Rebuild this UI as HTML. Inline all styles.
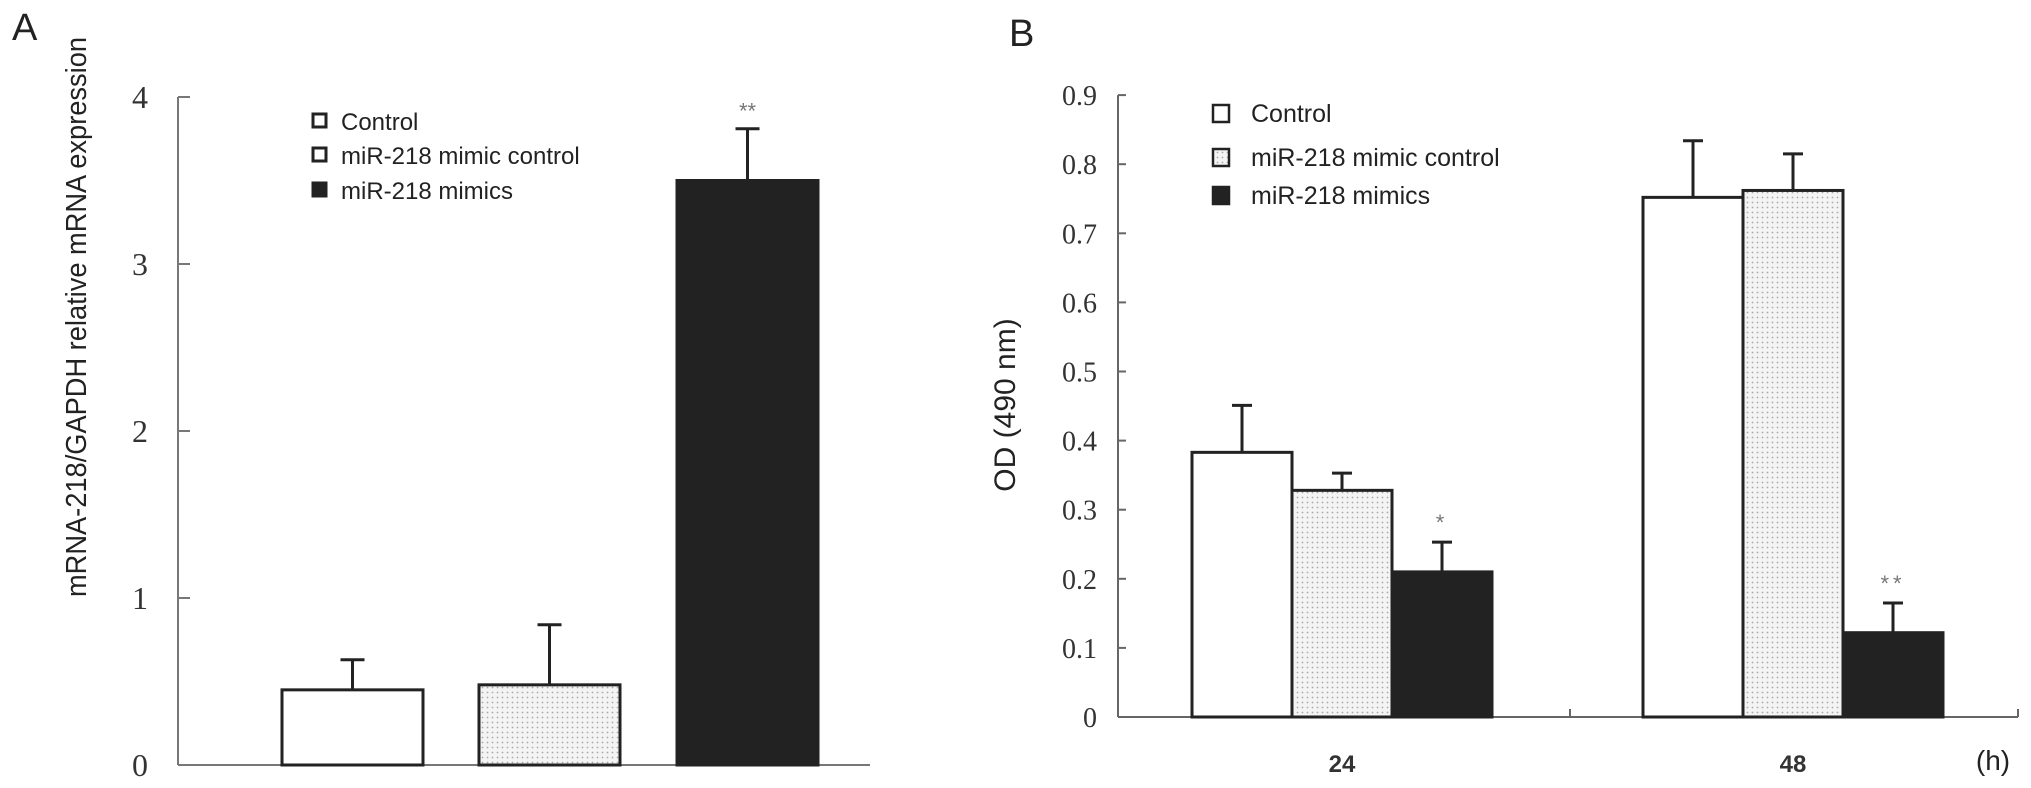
<!DOCTYPE html>
<html><head><meta charset="utf-8"><style>
html,body{margin:0;padding:0;background:#fff;}
svg{display:block;}
</style></head><body>
<svg id="chart" width="2031" height="788" viewBox="0 0 2031 788" xmlns="http://www.w3.org/2000/svg">
<defs>
<pattern id="dots" width="5" height="5" patternUnits="userSpaceOnUse">
<rect width="5" height="5" fill="#f4f4f4"/>
<circle cx="2.5" cy="2.5" r="0.9" fill="#aaa"/>
</pattern>
</defs>
<text x="12" y="40" font-family="Liberation Sans, sans-serif" font-size="38" fill="#222">A</text>
<text x="1009" y="46" font-family="Liberation Sans, sans-serif" font-size="38" fill="#222">B</text>
<g id="gA"></g>
<g id="gB"></g>
</svg>
<script>
// Panel A data
const catsA = ["Control", "miR-218 mimic control", "miR-218 mimics"];
const valsA = [0.45, 0.48, 3.50];
const errA = [0.18, 0.36, 0.31];
const ticksA = ["0", "1", "2", "3", "4"];
const starsA = ["", "", "**"];
// Panel B data
const groupsB = ["24", "48"];
const seriesB = ["Control", "miR-218 mimic control", "miR-218 mimics"];
const valsB0 = [0.383, 0.752];
const valsB1 = [0.328, 0.762];
const valsB2 = [0.210, 0.122];
const errB0 = [0.068, 0.082];
const errB1 = [0.025, 0.053];
const errB2 = [0.043, 0.043];
const ticksB = ["0", "0.1", "0.2", "0.3", "0.4", "0.5", "0.6", "0.7", "0.8", "0.9"];
const starsB = [["", "", "*"], ["", "", "**"]];

const NS = "http://www.w3.org/2000/svg";
const fills = ["#fff", "url(#dots)", "#222"];
function mk(parent, tag, attrs, text) {
  const e = document.createElementNS(NS, tag);
  for (const k in attrs) e.setAttribute(k, attrs[k]);
  if (text !== undefined) e.textContent = text;
  parent.appendChild(e);
  return e;
}

// ---------- Panel A ----------
const gA = document.getElementById("gA");
const axA = 178, y0A = 765, unitA = 167;
const yA = v => y0A - v * unitA;
let el;
el = mk(gA, "line", {x1: axA, y1: yA(4), x2: axA, y2: y0A, stroke: "#777", "stroke-width": 2});


el = mk(gA, "line", {x1: axA, y1: y0A, x2: 870, y2: y0A, stroke: "#777", "stroke-width": 2});


ticksA.forEach((t, i) => {
  const v = parseFloat(t);
  const tk = mk(gA, "line", {x1: axA, y1: yA(v), x2: axA + 12, y2: yA(v), stroke: "#777", "stroke-width": 2});
  
  
  const lb = mk(gA, "text", {x: 148, y: yA(v) + 11, "text-anchor": "end", "font-family": "Liberation Serif, serif", "font-size": 32, fill: "#333"}, t);
  
  
});
el = mk(gA, "text", {x: 0, y: 0, transform: "translate(86,317) rotate(-90)", "text-anchor": "middle", "font-family": "Liberation Sans, sans-serif", "font-size": 29, fill: "#222", textLength: 560, lengthAdjust: "spacingAndGlyphs"}, "mRNA-218/GAPDH relative mRNA expression");


const barXA = [282, 479, 677], bwA = 141;
catsA.forEach((c, i) => {
  const x = barXA[i], top = yA(valsA[i]), et = yA(valsA[i] + errA[i]), cx = x + bwA / 2;
  const b = mk(gA, "rect", {x: x, y: top, width: bwA, height: y0A - top, fill: fills[i], stroke: "#222", "stroke-width": 3});
  
  
  const e1 = mk(gA, "path", {d: `M${cx},${top} V${et} M${cx - 12},${et} H${cx + 12}`, stroke: "#222", "stroke-width": 3, fill: "none"});
  
  
  if (starsA[i]) {
    const s = mk(gA, "text", {x: cx, y: et - 10, "text-anchor": "middle", "font-family": "Liberation Sans, sans-serif", "font-size": 22, fill: "#777"}, starsA[i]);
    
    
  }
});
const legYA = [121, 155, 190];
catsA.forEach((c, i) => {
  const sq = mk(gA, "rect", {x: 313, y: legYA[i] - 7, width: 13, height: 13, fill: i === 2 ? "#222" : "#fff", stroke: "#222", "stroke-width": 3});
  
  
  const t = mk(gA, "text", {x: 341, y: legYA[i] + 9, "font-family": "Liberation Sans, sans-serif", "font-size": 24, fill: "#222"}, c);
  
  
});

// ---------- Panel B ----------
const gB = document.getElementById("gB");
const axB = 1118, y0B = 717, unitB = 691;
const yB = v => y0B - v * unitB;
el = mk(gB, "line", {x1: axB, y1: yB(0.9), x2: axB, y2: y0B, stroke: "#666", "stroke-width": 2});


el = mk(gB, "line", {x1: axB, y1: y0B, x2: 2018, y2: y0B, stroke: "#666", "stroke-width": 2});


[1570, 2018].forEach(x => {
  const t = mk(gB, "line", {x1: x, y1: y0B, x2: x, y2: y0B - 8, stroke: "#666", "stroke-width": 2});
  
  
});
ticksB.forEach(t => {
  const v = parseFloat(t);
  const tk = mk(gB, "line", {x1: axB, y1: yB(v), x2: axB + 8, y2: yB(v), stroke: "#666", "stroke-width": 2});
  
  
  const lb = mk(gB, "text", {x: 1097, y: yB(v) + 10, "text-anchor": "end", "font-family": "Liberation Serif, serif", "font-size": 28, fill: "#333"}, t);
  
  
});
el = mk(gB, "text", {x: 0, y: 0, transform: "translate(1015,405) rotate(-90)", "text-anchor": "middle", "font-family": "Liberation Sans, sans-serif", "font-size": 30, fill: "#222"}, "OD (490 nm)");


const groupX = [1192, 1643], bwB = 100;
const valsB = [valsB0, valsB1, valsB2], errB = [errB0, errB1, errB2];
groupsB.forEach((g, gi) => {
  seriesB.forEach((s, si) => {
    const x = groupX[gi] + si * bwB, v = valsB[si][gi], top = yB(v), et = yB(v + errB[si][gi]), cx = x + bwB / 2;
    const b = mk(gB, "rect", {x: x, y: top, width: bwB, height: y0B - top, fill: fills[si], stroke: "#222", "stroke-width": 3});
    
    
    const e1 = mk(gB, "path", {d: `M${cx},${top} V${et} M${cx - 10},${et} H${cx + 10}`, stroke: "#222", "stroke-width": 3, fill: "none"});
    
    
    if (starsB[gi][si]) {
      const st = mk(gB, "text", {x: cx, y: et - 12, "text-anchor": "middle", "font-family": "Liberation Sans, sans-serif", "font-size": 22, fill: "#777", "letter-spacing": 4}, starsB[gi][si]);
      
      
    }
  });
  const lb = mk(gB, "text", {x: groupX[gi] + 1.5 * bwB, y: 772, "text-anchor": "middle", "font-family": "Liberation Sans, sans-serif", "font-size": 24, "font-weight": "bold", fill: "#333"}, g);
  
  
});
el = mk(gB, "text", {x: 1993, y: 770, "text-anchor": "middle", "font-family": "Liberation Sans, sans-serif", "font-size": 28, fill: "#222"}, "(h)");


const legYB = [113, 157, 195];
seriesB.forEach((c, i) => {
  const sq = mk(gB, "rect", {x: 1213, y: legYB[i] - 8, width: 16, height: 17, fill: i === 2 ? "#222" : (i === 1 ? "url(#dots)" : "#fff"), stroke: "#222", "stroke-width": 2.5});
  
  
  const t = mk(gB, "text", {x: 1251, y: legYB[i] + 9, "font-family": "Liberation Sans, sans-serif", "font-size": 25, fill: "#222"}, c);
  
  
});
</script>
</body></html>
